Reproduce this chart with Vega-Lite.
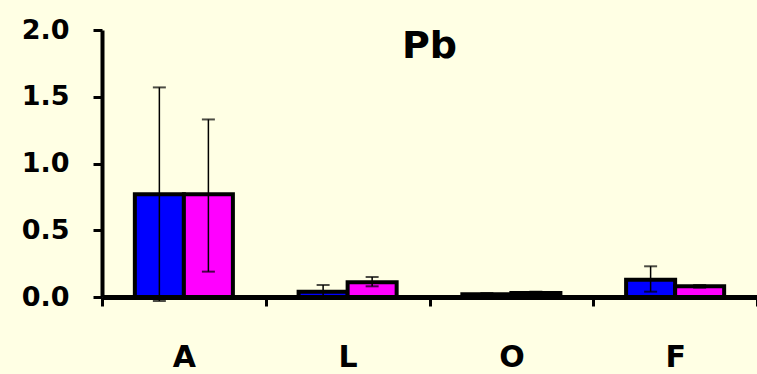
{
  "$schema": "https://vega.github.io/schema/vega-lite/v6.json",
  "width": 655,
  "height": 267,
  "autosize": {"type": "none"},
  "padding": {"left": 102, "top": 30, "right": 0, "bottom": 77},
  "background": "#FFFFE4",
  "title": {
    "text": "Pb",
    "font": "DejaVu Sans",
    "fontSize": 38,
    "fontWeight": "bold",
    "color": "black",
    "anchor": "middle",
    "baseline": "top",
    "offset": -50
  },
  "config": {
    "view": {"stroke": null},
    "axis": {"labelFont": "DejaVu Sans", "labelFontWeight": "bold", "labelColor": "black", "domainColor": "black", "tickColor": "black", "grid": false, "title": null}
  },
  "data": {
    "values": [
      {"site": "A", "series": "s1", "mean": 0.77, "lo": -0.03, "hi": 1.57},
      {"site": "A", "series": "s2", "mean": 0.77, "lo": 0.19, "hi": 1.33},
      {"site": "L", "series": "s1", "mean": 0.04, "lo": 0.0, "hi": 0.09},
      {"site": "L", "series": "s2", "mean": 0.11, "lo": 0.08, "hi": 0.15},
      {"site": "O", "series": "s1", "mean": 0.02, "lo": 0.01, "hi": 0.03},
      {"site": "O", "series": "s2", "mean": 0.03, "lo": 0.02, "hi": 0.04},
      {"site": "F", "series": "s1", "mean": 0.13, "lo": 0.04, "hi": 0.23},
      {"site": "F", "series": "s2", "mean": 0.08, "lo": 0.07, "hi": 0.09}
    ]
  },
  "encoding": {
    "x": {
      "field": "site", "type": "nominal", "sort": ["A", "L", "O", "F"],
      "scale": {"paddingInner": 0, "paddingOuter": 0},
      "axis": {"labelAngle": 0, "labelFontSize": 30, "labelPadding": 36, "domainWidth": 5, "tickWidth": 3, "tickSize": 9, "tickBand": "extent"}
    },
    "xOffset": {"field": "series", "type": "nominal", "scale": {"paddingInner": 0, "paddingOuter": 0.67}}
  },
  "layer": [
    {
      "mark": {"type": "bar", "stroke": "black", "strokeWidth": 4},
      "encoding": {
        "y": {
          "field": "mean", "type": "quantitative",
          "scale": {"domain": [0, 2], "nice": false},
          "axis": {"values": [0, 0.5, 1, 1.5, 2], "format": ".1f", "labelFontSize": 27, "labelPadding": 24, "domainWidth": 4, "tickWidth": 3, "tickSize": 9}
        },
        "color": {"field": "series", "type": "nominal", "scale": {"range": ["#0000FF", "#FF00FF"]}, "legend": null}
      }
    },
    {
      "mark": {"type": "rule", "color": "black", "strokeWidth": 1.5, "clip": false},
      "encoding": {
        "y": {"field": "lo", "type": "quantitative"},
        "y2": {"field": "hi"}
      }
    },
    {
      "mark": {"type": "tick", "color": "black", "size": 13, "thickness": 2, "orient": "horizontal"},
      "encoding": {"y": {"field": "hi", "type": "quantitative"}}
    },
    {
      "mark": {"type": "tick", "color": "black", "size": 13, "thickness": 2, "orient": "horizontal"},
      "encoding": {"y": {"field": "lo", "type": "quantitative"}}
    }
  ]
}
